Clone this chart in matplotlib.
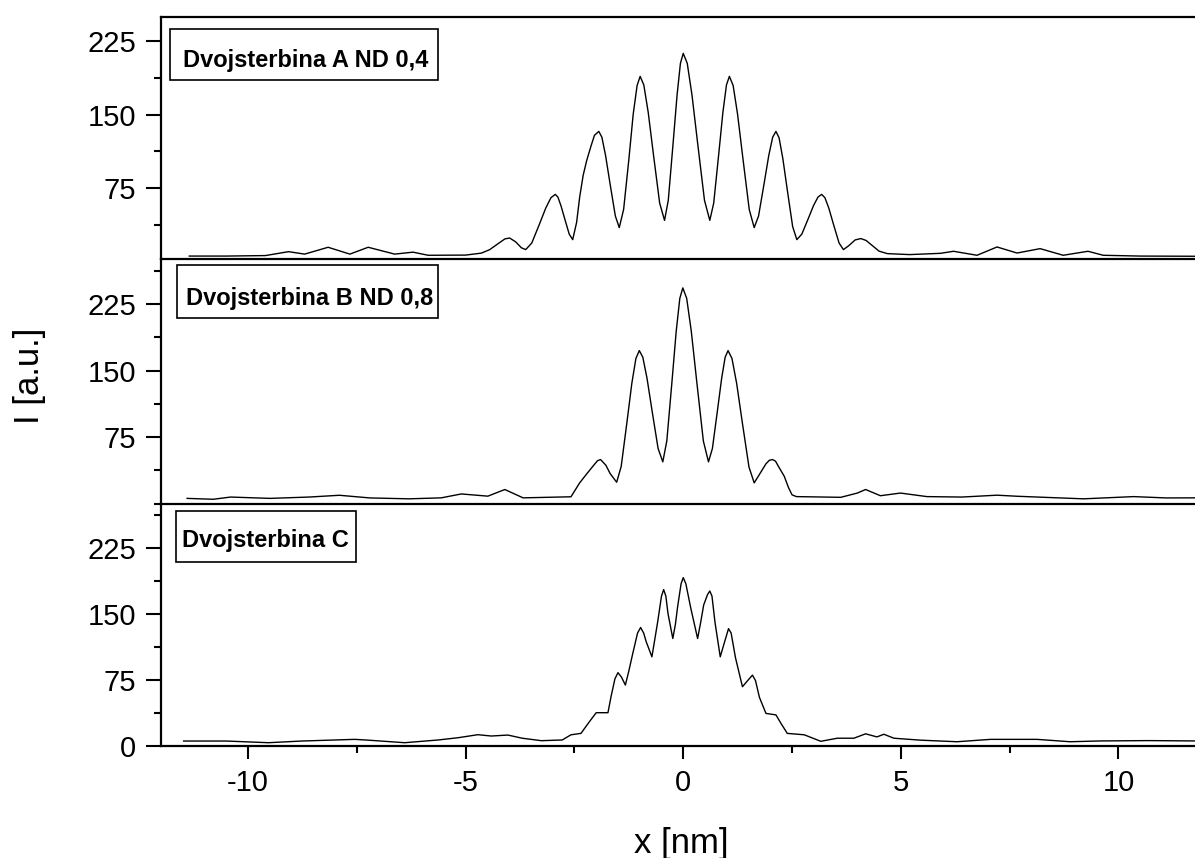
import numpy as np
import matplotlib
matplotlib.use('Agg')
import matplotlib.pyplot as plt
from matplotlib.patches import Rectangle
from matplotlib.ticker import MultipleLocator

plt.rcParams['font.family'] = ['Liberation Sans', 'DejaVu Sans']

# Panel A: Dvojsterbina A ND 0,4
xa = [-11.35, -10.5, -9.6, -9.07, -8.7, -8.16, -7.66, -7.24, -6.63, -6.21, -5.86, -5.0,
      -4.64, -4.45, -4.26, -4.1, -3.99, -3.85, -3.72, -3.62,
      -3.48, -3.31, -3.16, -3.04, -2.94, -2.88, -2.81, -2.72, -2.62, -2.54,
      -2.45, -2.38, -2.30, -2.22, -2.12, -2.04, -1.94, -1.87, -1.785, -1.68, -1.56, -1.47,
      -1.37, -1.25, -1.15, -1.06, -0.99, -0.906, -0.805, -0.682, -0.542, -0.43,
      -0.344, -0.237, -0.142, -0.065, 0.0, 0.092, 0.201, 0.336, 0.488, 0.61,
      0.70, 0.812, 0.911, 0.993, 1.06, 1.146, 1.248, 1.374, 1.516, 1.63,
      1.73, 1.855, 1.965, 2.055, 2.13, 2.202, 2.288, 2.394, 2.514, 2.61,
      2.724, 2.866, 2.992, 3.095, 3.18, 3.255, 3.345, 3.455, 3.58, 3.68,
      3.8, 3.95, 4.08, 4.2, 4.35, 4.5, 4.69,
      5.2, 5.91, 6.21, 6.75, 7.21, 7.67, 8.2, 8.73, 9.3, 9.65, 10.5, 11.76]
ya = [5.5, 5.5, 6.0, 10.0, 7.5, 14.5, 7.5, 14.5, 7.5, 9.5, 6.3, 6.5,
      8.5, 12.0, 18.0, 23.0, 24.0, 20.0, 14.0, 12.1,
      18.9, 37.5, 54.5, 65.2, 68.6, 65.8, 57.0, 43.1, 27.9, 22.3,
      40.0, 65.8, 88.0, 103.0, 118.0, 129.0, 133.0, 127.1, 108.4, 78.9, 46.4, 34.6,
      53.2, 104.2, 150.6, 180.0, 189.3, 180.5, 152.5, 108.3, 59.7, 42.0,
      62.5, 118.9, 170.1, 202.6, 212.8, 202.6, 170.1, 118.9, 62.5, 42.0,
      59.7, 108.3, 152.5, 180.5, 189.3, 180.0, 150.6, 104.2, 53.2, 34.6,
      46.4, 78.9, 108.4, 127.1, 133.0, 126.4, 105.3, 72.1, 35.6, 22.3,
      27.9, 43.1, 57.0, 65.8, 68.6, 65.2, 54.5, 37.5, 18.9, 12.1,
      16.0, 22.0, 23.4, 21.5, 16.0, 10.5, 8.0,
      7.0, 8.3, 10.4, 6.3, 14.8, 8.6, 13.1, 6.3, 10.4, 6.3, 5.5, 5.3]

# Panel B: Dvojsterbina B ND 0,8
xb = [-11.4, -10.8, -10.4, -9.5, -8.6, -7.9, -7.2, -6.3, -5.56, -5.1, -4.49, -4.1, -3.68,
      -2.58, -2.38, -2.23, -2.08, -1.97, -1.9, -1.778, -1.68, -1.53,
      -1.426, -1.296, -1.182, -1.088, -1.01, -0.929, -0.832, -0.713, -0.578, -0.47,
      -0.378, -0.263, -0.162, -0.079, -0.01, 0.079, 0.185, 0.315, 0.462, 0.58,
      0.67, 0.782, 0.882, 0.963, 1.03, 1.12, 1.228, 1.36, 1.51, 1.63,
      1.75, 1.9, 1.98, 2.05, 2.12, 2.2, 2.32, 2.42, 2.5, 2.6,
      3.62, 4.0, 4.19, 4.53, 4.99, 5.6, 6.4, 7.21, 7.67, 8.4, 9.2, 10.35, 11.1, 11.76]
yb = [6.0, 5.0, 7.5, 6.0, 7.5, 9.5, 6.5, 5.5, 6.6, 11.0, 8.5, 16.0, 6.6,
      7.8, 23.5, 32.9, 42.0, 48.5, 49.8, 43.4, 34.0, 24.2,
      42.0, 91.0, 135.6, 163.8, 172.7, 165.2, 141.3, 103.7, 62.3, 47.2,
      70.7, 135.5, 194.4, 231.6, 243.4, 231.6, 194.4, 135.5, 70.7, 47.2,
      62.3, 103.7, 141.3, 165.2, 172.7, 163.7, 135.4, 90.6, 41.4, 23.5,
      33.0, 45.0, 49.0, 49.8, 48.0, 41.0, 31.0, 18.0, 10.0, 8.0,
      7.2, 12.0, 16.0, 9.0, 12.0, 8.0, 7.5, 9.6, 8.4, 7.0, 5.5, 8.0, 6.5, 6.6]

# Panel C: Dvojsterbina C
xc = [-11.48, -10.5, -9.53, -8.77, -7.55, -7.3, -6.4, -5.63, -5.17, -4.72, -4.41, -4.03,
      -3.7, -3.26, -2.78, -2.58, -2.35, -2.16, -2.0, -1.73, -1.66, -1.57, -1.5, -1.42, -1.33,
      -1.25, -1.16, -1.05, -0.98, -0.91, -0.85, -0.72, -0.64, -0.59, -0.5, -0.45, -0.4, -0.35,
      -0.24, -0.18, -0.13, -0.05, 0.0, 0.06, 0.17, 0.33, 0.4, 0.47, 0.56, 0.61, 0.66,
      0.73, 0.85, 0.95, 1.04, 1.1, 1.2, 1.36, 1.48, 1.59, 1.66, 1.75, 1.9, 2.13, 2.25, 2.39,
      2.78, 3.16, 3.54, 3.92, 4.19, 4.45, 4.61, 4.84, 5.45, 6.29, 7.06, 8.13, 8.89, 9.58,
      10.7, 11.76]
yc = [5.3, 5.3, 3.4, 5.3, 7.2, 6.5, 3.4, 6.5, 9.1, 12.5, 11.0, 12.1,
      8.5, 5.7, 6.5, 12.4, 14.0, 27.0, 37.5, 37.5, 55.6, 76.0, 83.0, 78.0, 68.9,
      85.0, 104.8, 128.0, 134.3, 128.0, 118.0, 101.0, 125.0, 140.0, 170.0, 177.4, 170.0, 150.0,
      121.8, 138.0, 157.7, 184.0, 191.0, 184.0, 157.0, 121.8, 140.0, 160.0, 172.0, 175.8, 170.0,
      140.0, 101.0, 118.0, 133.0, 128.0, 100.0, 67.0, 74.0, 80.2, 74.0, 55.0, 36.7, 35.0, 25.0, 14.0,
      12.4, 5.0, 8.5, 8.5, 13.5, 10.0, 13.0, 8.5, 6.3, 4.5, 7.2, 7.2, 4.5, 5.4,
      5.8, 5.4]

labels = ['Dvojsterbina A ND 0,4', 'Dvojsterbina B ND 0,8', 'Dvojsterbina C']
series = [(xa, ya), (xb, yb), (xc, yc)]
ylims = [(2.5, 250), (0, 276), (0, 275)]

W, H = 1195, 858
fig = plt.figure(figsize=(W / 100, H / 100), dpi=100)


def fx(p):
    return p / W


def fy(p):
    return 1 - p / H


# panel pixel bounds (top, bottom)
rows = [(17, 259), (259, 503.7), (503.7, 745.7)]
left, right = 161, 1205.5
axes = []
for i, (t, b) in enumerate(rows):
    ax = fig.add_axes([fx(left), fy(b), fx(right - left), (b - t) / H])
    x, y = series[i]
    ax.plot(x, y, color='black', lw=1.0)
    ax.set_xlim(-12, 12)
    ax.set_ylim(*ylims[i])
    ax.yaxis.set_minor_locator(MultipleLocator(37.5))
    ax.xaxis.set_minor_locator(MultipleLocator(2.5))
    ax.xaxis.set_major_locator(MultipleLocator(5))
    if i < 2:
        ax.set_yticks([75, 150, 225])
        ax.tick_params(axis='x', which='both', bottom=False, labelbottom=False)
    else:
        ax.set_yticks([0, 75, 150, 225])
    ax.spines['right'].set_visible(False)
    ax.spines['top'].set_visible(i == 0)
    for s in ax.spines.values():
        s.set_linewidth(1.6)
    ax.tick_params(axis='y', which='major', length=11, width=1.5, pad=7, labelsize=21, direction='out')
    ax.tick_params(axis='y', which='minor', length=5, width=1.5, direction='out')
    ax.tick_params(axis='x', which='major', length=9.5, width=1.5, pad=7, labelsize=21, direction='out')
    ax.tick_params(axis='x', which='minor', length=5, width=1.5, direction='out')
    ax.set_facecolor('none')
    axes.append(ax)

axes[2].set_xticks([-10, -5, 0, 5, 10])
axes[2].set_xticklabels(['-10', '-5', '0', '5', '10'])
axes[2].set_xlim(-12, 12)

# label boxes (x0, y0, x1, y1, text x, text baseline)
boxes = [(170, 29, 438, 80, 183, 67.3),
         (177.3, 265.3, 438.3, 318, 186, 304.7),
         (176.3, 510.7, 355.7, 561.7, 181.7, 546.7)]
for (x0, y0, x1, y1, tx, ty), lab in zip(boxes, labels):
    fig.add_artist(Rectangle((fx(x0), fy(y1)), fx(x1 - x0), (y1 - y0) / H,
                             transform=fig.transFigure, fill=False, lw=1.2, ec='black'))
    fig.text(fx(tx), fy(ty), lab, fontsize=17, fontweight='bold', va='baseline', ha='left')

fig.text(fx(29), fy(376), 'I [a.u.]', rotation=90, fontsize=25, ha='center', va='center')
fig.text(fx(681), fy(843), 'x [nm]', fontsize=25, ha='center', va='center')

plt.savefig('out.png', dpi=100)
